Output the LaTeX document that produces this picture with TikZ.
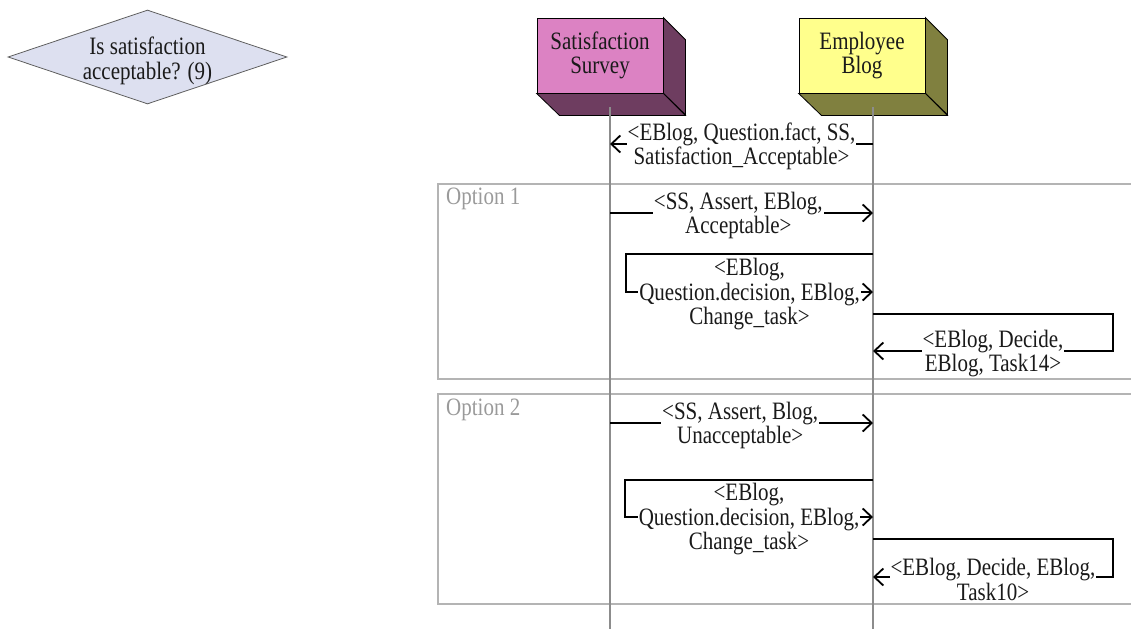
\documentclass[tikz,border=0pt]{standalone}
\usepackage{fontspec}
\setmainfont[FakeStretch=0.84]{Liberation Serif}
\usetikzlibrary{arrows.meta,shapes.geometric}

\definecolor{ssfront}{HTML}{DC82C3}
\definecolor{ssside}{HTML}{6E3D60}
\definecolor{ebfront}{HTML}{FFFF8C}
\definecolor{ebside}{HTML}{80803F}
\definecolor{decfill}{HTML}{DDE0F0}
\definecolor{lifegray}{HTML}{8C8C8C}
\definecolor{framegray}{HTML}{B4B4B4}
\definecolor{optgray}{HTML}{9A9A9A}
\definecolor{ink}{HTML}{1A1A1A}

\begin{document}
\begin{tikzpicture}[x=1pt,y=-1pt,
  txt/.style={font=\fontsize{25}{24.5}\selectfont, text=ink, align=center},
  lbl/.style={txt, fill=white, inner sep=1pt, yshift=-2.5pt},
  msg/.style={draw=black, line width=1.8pt,
    -{Straight Barb[length=9pt,width=17pt]}},
  life/.style={draw=lifegray, line width=1.8pt},
  optframe/.style={draw=framegray, line width=1.8pt, anchor=north west,
    minimum width=703pt, inner sep=0pt},
  optlbl/.style={font=\fontsize{25}{24.5}\selectfont, text=optgray,
    anchor=west, inner sep=0pt},
  actor/.style={txt, draw=black, line width=0.8pt,
    minimum width=126pt, minimum height=75pt, inner sep=0pt},
  decision/.style={diamond, draw=ink!70, line width=0.8pt, fill=decfill,
    minimum width=279pt, minimum height=94pt, inner sep=0pt}
]
\clip (0,0) rectangle (1131,629);

% decision diamond
\node[decision] (dec) at (147.5,57) {};
\node[txt] (dectext) at (147.5,61) {Is satisfaction\\acceptable? (9)};

% option frames
\node[optframe, minimum height=195pt] (opt1) at (437,183) {};
\node[optlbl] (opt1lbl) at (446,199) {Option 1};
\node[optframe, minimum height=210pt] (opt2) at (437,393) {};
\node[optlbl] (opt2lbl) at (446,410) {Option 2};

% participants drawn as 3D blocks
\node[actor, fill=ssfront] (ss) at (600,55.5) {Satisfaction\\Survey};
\filldraw[fill=ssside, draw=black, line width=0.8pt]
  (ss.north east) -- ++(22,22) -- ++(0,75) -- (ss.south east) -- cycle;
\filldraw[fill=ssside, draw=black, line width=0.8pt]
  (ss.south west) -- (ss.south east) -- ++(22,22) -- ++(-126,0) -- cycle;

\node[actor, fill=ebfront] (eb) at (862,55.5) {Employee\\Blog};
\filldraw[fill=ebside, draw=black, line width=0.8pt]
  (eb.north east) -- ++(22,22) -- ++(0,75) -- (eb.south east) -- cycle;
\filldraw[fill=ebside, draw=black, line width=0.8pt]
  (eb.south west) -- (eb.south east) -- ++(22,22) -- ++(-126,0) -- cycle;

% lifelines
\coordinate (ssTop) at (610,107);
\coordinate (ssEnd) at (610,629);
\coordinate (ebTop) at (873,107);
\coordinate (ebEnd) at (873,629);
\draw[life] (ssTop) -- (ssEnd);
\draw[life] (ebTop) -- (ebEnd);

% message anchor points on the lifelines
\coordinate (m1a) at (873,144);
\coordinate (m1b) at (610,144);
\coordinate (m2a) at (610,213);
\coordinate (m2b) at (873,213);
\coordinate (m3a) at (873,254);
\coordinate (m3b) at (873,292);
\coordinate (m4a) at (873,314);
\coordinate (m4b) at (873,351);
\coordinate (m5a) at (610,423);
\coordinate (m5b) at (873,423);
\coordinate (m6a) at (873,480);
\coordinate (m6b) at (873,517);
\coordinate (m7a) at (873,539);
\coordinate (m7b) at (873,577);

% messages
\draw[msg] (m1a) -- node[lbl] (l1)
  {<EBlog, Question.fact, SS,\\Satisfaction\_Acceptable>} (m1b);

\draw[msg] (m2a) -- node[lbl, pos=0.488] (l2)
  {<SS, Assert, EBlog,\\Acceptable>} (m2b);
\draw[msg] (m3a) -- ++(-247,0) |- node[lbl, pos=0.75] (l3)
  {<EBlog,\\Question.decision, EBlog,\\Change\_task>} (m3b);
\draw[msg] (m4a) -- ++(240,0) |- node[lbl, pos=0.75] (l4)
  {<EBlog, Decide,\\EBlog, Task14>} (m4b);

\draw[msg] (m5a) -- node[lbl, pos=0.495] (l5)
  {<SS, Assert, Blog,\\Unacceptable>} (m5b);
\draw[msg] (m6a) -- ++(-248,0) |- node[lbl, pos=0.75] (l6)
  {<EBlog,\\Question.decision, EBlog,\\Change\_task>} (m6b);
\draw[msg] (m7a) -- ++(240,0) |- node[lbl, pos=0.75] (l7)
  {<EBlog, Decide, EBlog,\\Task10>} (m7b);
\end{tikzpicture}
\end{document}
